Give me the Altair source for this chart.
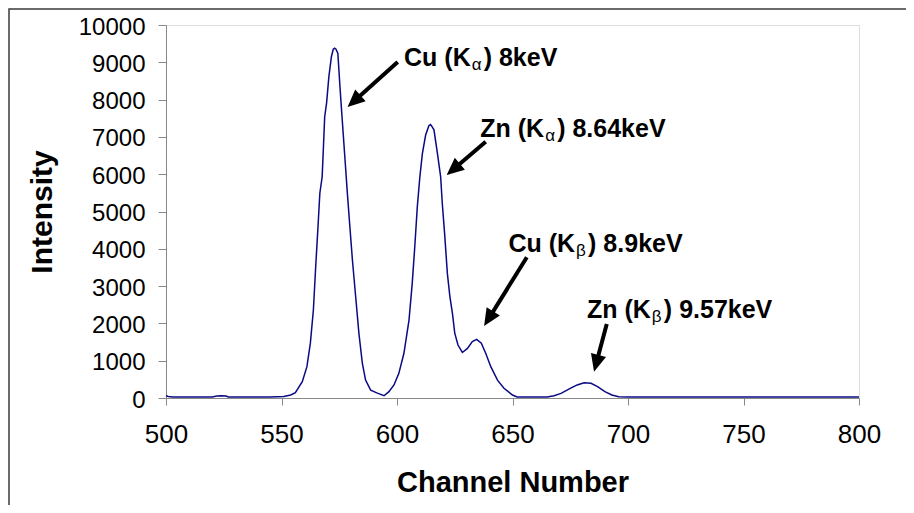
import math
import altair as alt
import pandas as pd

# ---- spectrum ----
channel = [500, 501, 503, 510, 520, 522, 524, 526, 527, 535, 545, 551, 554, 556, 559, 561,
           562.5, 563.8, 564.8, 565.8, 566.6, 567.6, 568.1, 568.7, 569.5, 570.5, 571.6, 572.4,
           573, 573.6, 574.4, 575.3, 576.3, 577.3, 578.5, 579.6, 580.7, 582.1, 583.5, 585,
           586.4, 588.6, 591.5, 594.4, 596.5, 598.7, 600.8, 603, 605.2, 606.6, 607.7, 608.8,
           609.9, 611, 612.4, 613.8, 614.5, 614.9, 616, 617.5, 618.9, 619.6, 620.6, 621.8,
           622.9, 624, 625, 626.4, 628.3, 630.5, 632.6, 634.5, 636.5, 638.4, 640.6, 643.5,
           646.3, 650, 652, 665, 668, 671, 675, 678, 681, 684, 687, 690, 693, 696, 700, 800]
intensity = [60, 40, 30, 30, 30, 55, 60, 55, 30, 30, 30, 40, 80, 143, 437, 840,
             1470, 2360, 3520, 4590, 5490, 5930, 6650, 7540, 7900, 8610, 9150, 9350,
             9380, 9350, 9240, 8350, 7450, 6570, 5500, 4590, 3700, 2720, 1740, 930,
             480, 210, 130, 60, 170, 350, 660, 1200, 2090, 3080, 4060, 5130,
             5930, 6560, 7050, 7300, 7330, 7300, 7190, 6560, 5930, 5220, 4420, 3340,
             2720, 2270, 1740, 1420, 1220, 1330, 1510, 1570, 1470, 1200, 840, 480,
             260, 80, 30, 30, 60, 125, 260, 350, 410, 395, 300, 170, 80, 35, 30, 30]

x_ticks = [500, 550, 600, 650, 700, 750, 800]
y_ticks = [0, 1000, 2000, 3000, 4000, 5000, 6000, 7000, 8000, 9000, 10000]

# ---- annotations ----
label_pre = ["Cu (K", "Zn (K", "Cu (K", "Zn (K"]
label_sub = ["α", "α", "β", "β"]
label_post = [") 8keV", ") 8.64keV", ") 8.9keV", ") 9.57keV"]
label_x = [631.9, 663.7, 677.1, 709.9]
label_y = [8901, 7005, 3922, 2145]

arrow_tail_x = [600.3, 638.4, 656.2, 690.8]
arrow_tail_y = [9008, 6871, 3772, 1984]
arrow_tip_x = [578.6, 621.5, 637.7, 685.3]
arrow_tip_y = [7802, 5979, 1930, 705]

W, H = 693, 373
XMIN, XMAX, YMIN, YMAX = 500, 800, 0, 10000
px_x = W / (XMAX - XMIN)
px_y = H / (YMAX - YMIN)
FONT = "Liberation Sans"

spec = pd.DataFrame({"channel": channel, "intensity": intensity})
labels = pd.DataFrame({"x": label_x, "y": label_y, "pre": label_pre,
                       "sub": label_sub, "post": label_post})

rows = []
for tx, ty, hx, hy in zip(arrow_tail_x, arrow_tail_y, arrow_tip_x, arrow_tip_y):
    sx = (hx - tx) * px_x
    sy = -(hy - ty) * px_y
    length = math.hypot(sx, sy)
    ang = math.degrees(math.atan2(sx, -sy)) % 360
    frac = 12 / length
    rows.append({"tx": tx, "ty": ty, "hx": hx, "hy": hy,
                 "ex": hx + frac * (tx - hx), "ey": hy + frac * (ty - hy),
                 "angle": ang})
arrows = pd.DataFrame(rows)

xs = alt.Scale(domain=[XMIN, XMAX], nice=False, zero=False)
ys = alt.Scale(domain=[YMIN, YMAX], nice=False)

x_axis = alt.Axis(values=x_ticks, title="Channel Number", grid=False,
                  format="d", tickSize=7, labelPadding=16, labelFontSize=26,
                  labelFlush=False, labelOverlap=False,
                  titleFontSize=29, titleFontWeight="bold",
                  titleX=W / 2, titleY=93, titleBaseline="alphabetic")
y_axis = alt.Axis(values=y_ticks, title="Intensity", grid=False,
                  format="d", tickSize=8, labelPadding=13, labelFontSize=24,
                  labelOffset=2, labelOverlap=False, labelBound=False,
                  titleFontSize=30, titleFontWeight="bold",
                  titleX=-115, titleY=H / 2, titleAngle=-90,
                  titleAlign="center", titleBaseline="alphabetic")


def X(field):
    return alt.X(field, scale=xs, axis=x_axis)


def Y(field):
    return alt.Y(field, scale=ys, axis=y_axis)


line = alt.Chart(spec).mark_line(color="#0a0a85", strokeWidth=1.5).encode(
    x=X("channel:Q"), y=Y("intensity:Q"))

shaft = alt.Chart(arrows).mark_rule(color="black", strokeWidth=4).encode(
    x=X("tx:Q"), y=Y("ty:Q"), x2="ex:Q", y2="ey:Q")
head = alt.Chart(arrows).mark_point(
    shape="M0,0L-0.45,1L0.45,1Z", filled=True, color="black", opacity=1,
    size=1200, strokeWidth=0).encode(
    x=X("hx:Q"), y=Y("hy:Q"), angle=alt.Angle("angle:Q", scale=None))

t_pre = alt.Chart(labels).mark_text(align="right", baseline="alphabetic", font=FONT,
                                    fontSize=25, fontWeight="bold", color="black").encode(
    x=X("x:Q"), y=Y("y:Q"), text="pre:N")
t_sub = alt.Chart(labels).mark_text(align="left", baseline="alphabetic", font=FONT,
                                    fontSize=17, color="black", dx=1, dy=4).encode(
    x=X("x:Q"), y=Y("y:Q"), text="sub:N")
t_post = alt.Chart(labels).mark_text(align="left", baseline="alphabetic", font=FONT,
                                     fontSize=25, fontWeight="bold", color="black",
                                     dx=13).encode(
    x=X("x:Q"), y=Y("y:Q"), text="post:N")

frame = alt.Chart(pd.DataFrame({"a": [0]})).mark_rect(
    fillOpacity=0, stroke="#3a3a3a", strokeWidth=1.5).encode(
    x=alt.value(-157), x2=alt.value(1200), y=alt.value(-16), y2=alt.value(800))

chart = alt.layer(frame, line, shaft, head, t_pre, t_sub, t_post).properties(
    width=W, height=H,
    padding={"left": 158, "top": 17, "right": 47, "bottom": 107},
    autosize=alt.AutoSizeParams(type="none"),
).configure_view(strokeWidth=0, stroke="transparent").configure_axis(
    labelFont=FONT, titleFont=FONT, labelColor="black", titleColor="black",
    domainColor="black", domainWidth=1, tickColor="#333333", tickWidth=1,
).configure(background="white")

chart.save("out.html", embed_options={"renderer": "svg", "actions": False})
